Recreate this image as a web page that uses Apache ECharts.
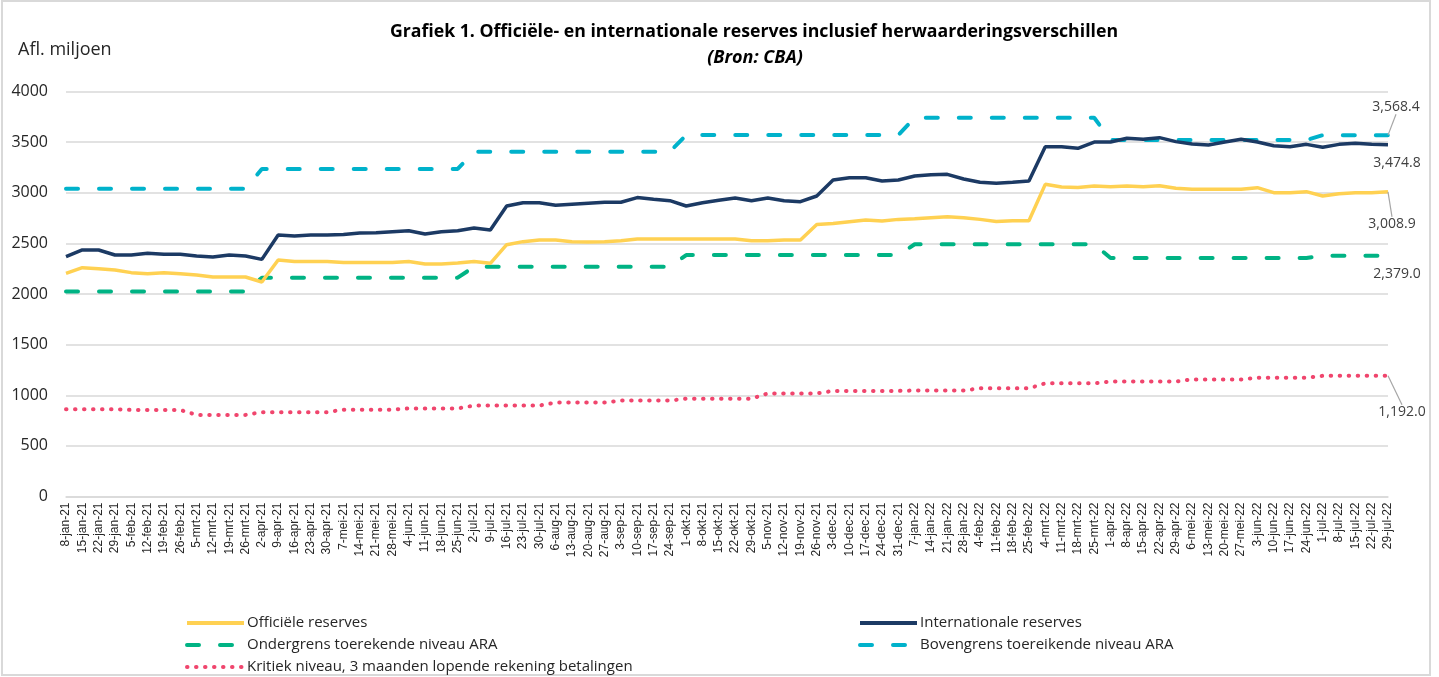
<!DOCTYPE html>
<html>
<head>
<meta charset="utf-8">
<script src="https://cdn.jsdelivr.net/npm/echarts@6/dist/echarts.min.js"></script>
<style>
html,body{margin:0;padding:0;background:#fff;}
#chart{width:1439px;height:677px;}
</style>
</head>
<body>
<div id="chart"></div>
<script>
const categories = [
  '8-jan-21','15-jan-21','22-jan-21','29-jan-21','5-feb-21','12-feb-21','19-feb-21','26-feb-21',
  '5-mrt-21','12-mrt-21','19-mrt-21','26-mrt-21','2-apr-21','9-apr-21','16-apr-21','23-apr-21','30-apr-21',
  '7-mei-21','14-mei-21','21-mei-21','28-mei-21','4-jun-21','11-jun-21','18-jun-21','25-jun-21',
  '2-jul-21','9-jul-21','16-jul-21','23-jul-21','30-jul-21','6-aug-21','13-aug-21','20-aug-21','27-aug-21',
  '3-sep-21','10-sep-21','17-sep-21','24-sep-21','1-okt-21','8-okt-21','15-okt-21','22-okt-21','29-okt-21',
  '5-nov-21','12-nov-21','19-nov-21','26-nov-21','3-dec-21','10-dec-21','17-dec-21','24-dec-21','31-dec-21',
  '7-jan-22','14-jan-22','21-jan-22','28-jan-22','4-feb-22','11-feb-22','18-feb-22','25-feb-22',
  '4-mrt-22','11-mrt-22','18-mrt-22','25-mrt-22','1-apr-22','8-apr-22','15-apr-22','22-apr-22','29-apr-22',
  '6-mei-22','13-mei-22','20-mei-22','27-mei-22','3-jun-22','10-jun-22','17-jun-22','24-jun-22',
  '1-jul-22','8-jul-22','15-jul-22','22-jul-22','29-jul-22'
];

const officieleReserves = [
  2204,2260,2250,2237,2211,2201,2211,2201,2188,2168,
  2168,2168,2119,2336,2320,2320,2320,2310,2310,2310,
  2310,2320,2296,2296,2306,2321,2303,2487,2517,2533,
  2533,2517,2514,2517,2527,2543,2543,2543,2543,2543,
  2543,2543,2527,2527,2533,2533,2687,2697,2714,2730,
  2720,2737,2743,2754,2763,2753,2737,2717,2724,2724,
  3083,3057,3053,3067,3060,3067,3060,3070,3044,3034,
  3034,3034,3034,3050,3001,3001,3011,2968,2991,3001,3001,3008.9
];

const internationaleReserves = [
  2368,2435,2435,2385,2385,2402,2392,2392,2375,2365,
  2385,2375,2342,2583,2573,2583,2583,2587,2602,2605,
  2615,2625,2592,2615,2625,2652,2632,2869,2902,2902,
  2876,2886,2896,2906,2906,2952,2935,2922,2869,2902,
  2925,2948,2922,2948,2922,2912,2968,3126,3149,3149,
  3116,3126,3165,3177,3182,3136,3103,3093,3103,3116,
  3455,3455,3439,3501,3501,3538,3528,3544,3505,3481,
  3472,3501,3528,3501,3465,3455,3478,3449,3478,3488,3478,3474.8
];

const ondergrensARA = [
  2025,2025,2025,2025,2025,2025,2025,2025,2025,2025,2025,2025,
  2161,2161,2161,2161,2161,2161,2161,2161,2161,2161,2161,2161,2161,
  2268,2268,2268,2268,2268,2268,2268,2268,2268,2268,2268,2268,2268,
  2385,2385,2385,2385,2385,2385,2385,2385,2385,2385,2385,2385,2385,2385,
  2491,2491,2491,2491,2491,2491,2491,2491,2491,2491,2491,2491,
  2355,2355,2355,2355,2355,2355,2355,2355,2355,2355,2355,2355,2355,
  2379,2379,2379,2379,2379.0
];

const bovengrensARA = [
  3040,3040,3040,3040,3040,3040,3040,3040,3040,3040,3040,3040,
  3235,3235,3235,3235,3235,3235,3235,3235,3235,3235,3235,3235,3235,
  3406,3406,3406,3406,3406,3406,3406,3406,3406,3406,3406,3406,3406,
  3570,3570,3570,3570,3570,3570,3570,3570,3570,3570,3570,3570,3570,3570,
  3741,3741,3741,3741,3741,3741,3741,3741,3741,3741,3741,3741,
  3521,3521,3521,3521,3521,3521,3521,3521,3521,3521,3521,3521,3521,
  3568.4,3568.4,3568.4,3568.4,3568.4
];

const kritiekNiveau = [
  862,862,862,862,855,855,855,855,
  806,806,806,806,833,833,833,833,833,
  858,858,858,858,870,870,870,870,
  898,898,898,898,898,928,928,928,928,
  947,947,947,947,966,966,966,966,966,
  1018,1018,1018,1018,1043,1043,1043,1043,1043,
  1047,1047,1047,1047,1068,1068,1068,1068,
  1118,1118,1118,1118,1136,1136,1136,1136,1136,
  1156,1156,1156,1156,1172,1172,1172,1172,
  1192,1192,1192,1192,1192.0
];

const yTicks = { min: 0, max: 4000, interval: 500 };

const FONT = 'Open Sans';
const fmt = v => Number(v).toLocaleString('en-US', {minimumFractionDigits: 1, maximumFractionDigits: 1});

function withEndLabel(arr) {
  return arr.map((v, i) => i === arr.length - 1
    ? { value: v, symbol: 'circle', symbolSize: 0.1, label: { show: true } }
    : v);
}

function endLabelCfg(dx, dy, guide) {
  return {
    label: { show: false, position: 'inside', formatter: p => fmt(p.value), color: '#404040', fontFamily: FONT, fontSize: 14 },
    labelLayout: { dx: dx, dy: dy },
    labelLine: { show: guide, lineStyle: { color: '#a6a6a6', width: 1.2 } }
  };
}

const chart = echarts.init(document.getElementById('chart'), null, { renderer: 'canvas' });

const legendCommon = {
  orient: 'vertical', itemWidth: 57, itemHeight: 10, itemGap: 4, padding: 0,
  itemStyle: { opacity: 0 },
  lineStyle: { width: 4 },
  textStyle: { fontFamily: FONT, fontSize: 15, color: '#262626', lineHeight: 18, padding: [0, 0, 0, -2] }
};

const option = {
  animation: false,
  backgroundColor: '#ffffff',
  textStyle: { fontFamily: FONT },
  graphic: [
    { type: 'rect', shape: { x: 2, y: 1, width: 1428, height: 674 }, style: { fill: 'none', stroke: '#d9d9d9', lineWidth: 2 }, silent: true, z: -10 },
    { type: 'text', x: 754, y: 32, style: { text: 'Grafiek 1. Officiële- en internationale reserves inclusief herwaarderingsverschillen', font: 'bold 17.7px "Open Sans"', fill: '#000', align: 'center', verticalAlign: 'middle' } },
    { type: 'text', x: 755, y: 58, style: { text: '(Bron: CBA)', font: 'italic bold 18px "Open Sans"', fill: '#000', align: 'center', verticalAlign: 'middle' } },
    { type: 'text', x: 18, y: 50, style: { text: 'Afl. miljoen', font: '18px "Open Sans"', fill: '#262626', align: 'left', verticalAlign: 'middle' } }
  ],
  grid: { left: 66, right: 51, top: 91.5, bottom: 180.5, containLabel: false },
  legend: [
    Object.assign({ left: 185, top: 614,
      data: ['Officiële reserves', 'Ondergrens toerekende niveau ARA', 'Kritiek niveau, 3 maanden lopende rekening betalingen'] }, legendCommon),
    Object.assign({ left: 858, top: 614,
      data: ['Internationale reserves', 'Bovengrens toereikende niveau ARA'] }, legendCommon)
  ],
  xAxis: {
    type: 'category',
    data: categories,
    boundaryGap: false,
    axisLine: { show: true, lineStyle: { color: '#d9d9d9', width: 1.5 } },
    axisTick: { show: false },
    axisLabel: { interval: 0, rotate: 90, fontFamily: 'Liberation Sans', fontSize: 12, color: '#262626', margin: 6 },
    splitLine: { show: false }
  },
  yAxis: {
    type: 'value',
    min: yTicks.min, max: yTicks.max, interval: yTicks.interval,
    axisLine: { show: false },
    axisTick: { show: false },
    axisLabel: { fontFamily: FONT, fontSize: 16, color: '#262626', margin: 18, formatter: v => String(v) },
    splitLine: { lineStyle: { color: '#d9d9d9', width: 1.5 } }
  },
  series: [
    Object.assign({
      name: 'Officiële reserves', type: 'line', data: withEndLabel(officieleReserves), symbol: 'none', z: 4,
      lineStyle: { color: '#FFD152', width: 3.5 }, itemStyle: { color: '#FFD152' }
    }, endLabelCfg(4, 32, true)),
    Object.assign({
      name: 'Internationale reserves', type: 'line', data: withEndLabel(internationaleReserves), symbol: 'none', z: 5,
      lineStyle: { color: '#1C3A64', width: 3.5 }, itemStyle: { color: '#1C3A64' }
    }, endLabelCfg(9, 18, false)),
    Object.assign({
      name: 'Ondergrens toerekende niveau ARA', type: 'line', data: withEndLabel(ondergrensARA), symbol: 'none', z: 3,
      lineStyle: { color: '#00B384', width: 4, type: [12, 21], cap: 'round' }, itemStyle: { color: '#00B384' }
    }, endLabelCfg(9, 18, false)),
    Object.assign({
      name: 'Bovengrens toereikende niveau ARA', type: 'line', data: withEndLabel(bovengrensARA), symbol: 'none', z: 3,
      lineStyle: { color: '#00B2CB', width: 4, type: [12, 21], cap: 'round' }, itemStyle: { color: '#00B2CB' }
    }, endLabelCfg(8, -28, true)),
    Object.assign({
      name: 'Kritiek niveau, 3 maanden lopende rekening betalingen', type: 'line', data: withEndLabel(kritiekNiveau), symbol: 'none', z: 3,
      lineStyle: { color: '#F0456D', width: 4, type: [0.5, 8.5], cap: 'round' }, itemStyle: { color: '#F0456D' }
    }, endLabelCfg(14, 36, true))
  ]
};

chart.setOption(option);
</script>
</body>
</html>
